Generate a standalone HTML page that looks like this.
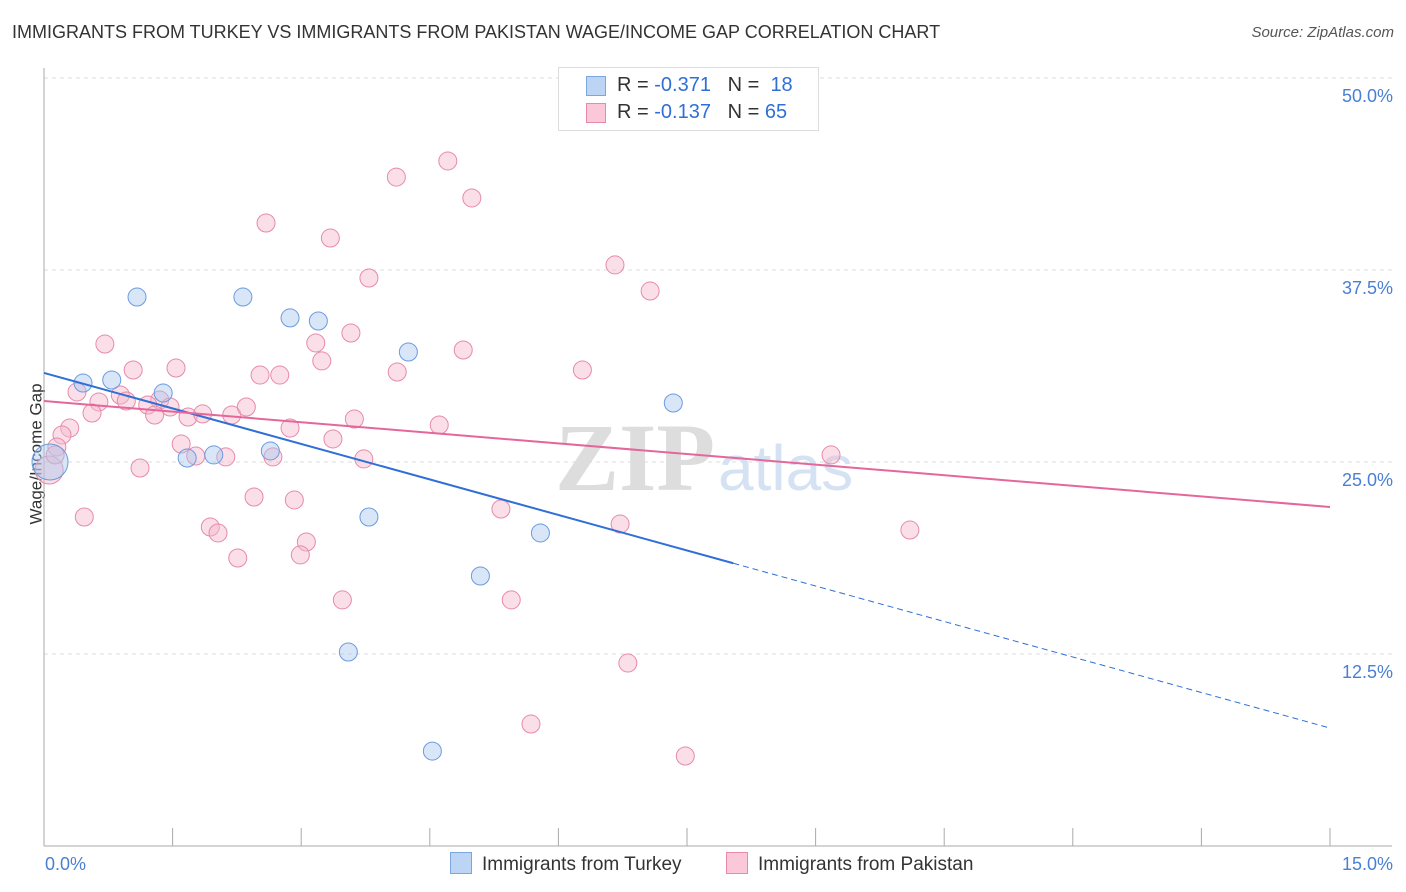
<!DOCTYPE html>
<html><head><meta charset="utf-8"><style>
body{margin:0;background:#fff;font-family:"Liberation Sans",sans-serif;}
#wrap{position:relative;width:1406px;height:892px;overflow:hidden;}
.t{position:absolute;white-space:nowrap;}
</style></head><body>
<div id="wrap">
<div class="t" style="left:12px;top:22px;font-size:18px;color:#333;">IMMIGRANTS FROM TURKEY VS IMMIGRANTS FROM PAKISTAN WAGE/INCOME GAP CORRELATION CHART</div>
<div class="t" style="right:12px;top:24px;font-size:15px;color:#555;font-style:italic;">Source: ZipAtlas.com</div>
<div class="t" style="left:-34px;top:444px;font-size:17px;color:#333;transform:rotate(-90deg);">Wage/Income Gap</div>
<svg id="svg" width="1406" height="892" style="position:absolute;left:0;top:0"></svg>
</div>
<script>
const turkeyX=[1.085,2.32,2.87,3.20,4.25,0.455,0.79,1.39,7.34,1.67,1.98,2.64,3.79,5.79,5.09,3.55,4.53,0.07];
const turkeyY=[35.74,35.74,34.38,34.18,32.16,30.14,30.34,29.49,28.84,25.26,25.46,25.72,21.42,20.38,17.58,12.63,6.18,25.0];
const pakX=[4.71,4.11,4.99,2.59,3.34,6.66,3.79,7.07,3.58,0.71,3.17,4.89,3.24,1.54,1.04,6.28,2.52,2.75,4.12,0.385,0.89,0.96,0.64,1.35,1.21,0.56,1.29,1.68,1.85,2.19,2.36,1.47,2.87,3.62,4.61,0.30,0.21,3.37,0.15,1.60,1.77,2.12,2.67,3.73,9.18,1.12,0.06,2.45,2.92,0.47,5.33,1.94,2.03,6.72,10.10,3.06,2.99,2.26,3.48,5.45,6.81,5.68,7.48,0.13];
const pakY=[44.60,43.55,42.19,40.56,39.58,37.83,36.98,36.13,33.40,32.68,32.75,32.29,31.58,31.12,30.99,30.99,30.66,30.66,30.86,29.56,29.36,28.97,28.91,29.04,28.71,28.19,28.06,27.93,28.13,28.06,28.58,28.58,27.21,27.80,27.41,27.21,26.76,26.50,25.98,26.17,25.39,25.33,25.33,25.20,25.46,24.61,24.48,22.72,22.53,21.42,21.94,20.77,20.38,20.96,20.57,19.79,18.95,18.75,16.02,16.02,11.91,7.94,5.86,25.46];
const yTicks=[12.5,25.0,37.5,50.0];
const xTickLabels=["0.0%","15.0%"];
const turkeyTrend=[30.8,7.68]; // at x=0 and x=15
const pakTrend=[28.97,22.07];
const X=v=>44+v*(1286/15);
const Y=v=>846-v*15.36;
const s=document.getElementById('svg');
const NS='http://www.w3.org/2000/svg';
function mk(tag,attrs){const e=document.createElementNS(NS,tag);for(const k in attrs)e.setAttribute(k,attrs[k]);s.appendChild(e);return e;}
yTicks.forEach(t=>{
 const g=mk('line',{x1:44,x2:1392,y1:Y(t),y2:Y(t),stroke:'#ddd','stroke-dasharray':'4,4'});
 
 
 const tx=mk('text',{x:1393,y:Y(t)+24,'text-anchor':'end','font-size':18,fill:'#4a7fd4','font-family':'Liberation Sans, sans-serif'});
 tx.textContent=t.toFixed(1)+'%';
 
 
});
let a=mk('line',{x1:44,x2:44,y1:68,y2:846,stroke:'#aaa'});


a=mk('line',{x1:44,x2:1392,y1:846,y2:846,stroke:'#aaa'});


for(let i=0;i<=10;i++){
 const l=mk('line',{x1:X(i*1.5),x2:X(i*1.5),y1:828,y2:846,stroke:'#aaa'});
 
 
}
[[0,'start',45],[15,'end',1393]].forEach((p,i)=>{
 const tx=mk('text',{x:p[2],y:870,'text-anchor':p[1],'font-size':18,fill:'#4a7fd4','font-family':'Liberation Sans, sans-serif'});
 tx.textContent=xTickLabels[i];
 
 
});
let wm=mk('text',{x:555,y:490,'font-size':96,fill:'#ddd','font-family':'Liberation Serif, serif','font-weight':'bold'});
wm.textContent='ZIP';


wm=mk('text',{x:718,y:490,'font-size':64,fill:'#d4e2f4','font-family':'Liberation Sans, sans-serif'});
wm.textContent='atlas';


pakX.forEach((x,i)=>{
 const c=mk('circle',{cx:X(x),cy:Y(pakY[i]),r:(i==46?14:9),fill:'#f5b8cb','fill-opacity':0.45,stroke:'#e88aa8','stroke-width':1});
 
 
});
turkeyX.forEach((x,i)=>{
 const c=mk('circle',{cx:X(x),cy:Y(turkeyY[i]),r:(i==17?18:9),fill:'#a9c8f0','fill-opacity':0.45,stroke:'#6a9be0','stroke-width':1});
 
 
});
const xs=8.04, ys=turkeyTrend[0]+(turkeyTrend[1]-turkeyTrend[0])*xs/15;
let l=mk('line',{x1:X(0),y1:Y(turkeyTrend[0]),x2:X(xs),y2:Y(ys),stroke:'#2f6fd6','stroke-width':2});


l=mk('line',{x1:X(xs),y1:Y(ys),x2:X(15),y2:Y(turkeyTrend[1]),stroke:'#2f6fd6','stroke-width':1,'stroke-dasharray':'6,4'});


l=mk('line',{x1:X(0),y1:Y(pakTrend[0]),x2:X(15),y2:Y(pakTrend[1]),stroke:'#e5679a','stroke-width':2});


</script>
<div class="t" style="left:558px;top:67px;width:259px;height:62px;border:1px solid #ddd;background:#fff;font-size:20px;color:#333;">
 <div style="position:absolute;left:27px;top:8px;width:18px;height:18px;background:#bcd5f5;border:1px solid #7aa5e0;"></div>
 <div style="position:absolute;left:58px;top:6px;">R = <span style="color:#2f6fd6">-0.371</span>&nbsp;&nbsp;&nbsp;N = &nbsp;<span style="color:#2f6fd6">18</span></div>
 <div style="position:absolute;left:27px;top:35px;width:18px;height:18px;background:#fac8d8;border:1px solid #e88aa8;"></div>
 <div style="position:absolute;left:58px;top:33px;">R = <span style="color:#2f6fd6">-0.137</span>&nbsp;&nbsp;&nbsp;N = <span style="color:#2f6fd6">65</span></div>
</div>
<div class="t" style="left:450px;top:852px;font-size:19px;color:#333;"><span style="display:inline-block;width:20px;height:20px;background:#bcd5f5;border:1px solid #7aa5e0;vertical-align:-4px;margin-right:10px;"></span>Immigrants from Turkey</div>
<div class="t" style="left:726px;top:852px;font-size:19px;color:#333;"><span style="display:inline-block;width:20px;height:20px;background:#fac8d8;border:1px solid #e88aa8;vertical-align:-4px;margin-right:10px;"></span>Immigrants from Pakistan</div>
</body></html>
